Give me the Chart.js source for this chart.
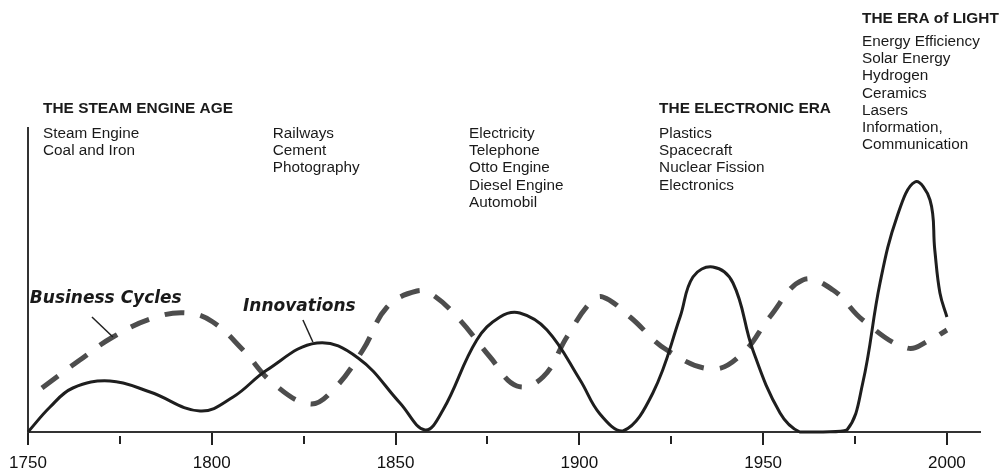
<!DOCTYPE html>
<html>
<head>
<meta charset="utf-8">
<script src="https://cdn.jsdelivr.net/npm/chart.js@4.4.1/dist/chart.umd.min.js"></script>
<style>
  html, body { margin: 0; padding: 0; background: #fff; }
  #wrap { width: 1002px; height: 471px; position: relative; }
</style>
</head>
<body>
<div id="wrap"><canvas id="line-chart"></canvas></div>
<script>
// Innovations (solid curve)
const innovationYears = [1750, 1756, 1762.2, 1772.3, 1783.2, 1796.8, 1805.8, 1815, 1828.6, 1839.8, 1851.2, 1858,
  1862.9, 1872.1, 1878.4, 1883.8, 1891.2, 1900.2, 1905.6, 1911.9, 1920, 1927.4, 1930.9, 1936.3, 1941.8, 1947.2, 1954.6,
  1960, 1966.3, 1972.8, 1977.1, 1981.8, 1986.4, 1991.3, 1995.4, 1996.7, 1998.1, 2000]
const innovationValues = [0, 25, 44, 51, 40, 21, 35, 62, 89, 74, 29, 2,
  22, 92, 115, 119, 102, 52, 18, 1, 39, 115, 155, 165, 149, 82, 19,
  0, 0, 2, 49, 149, 215, 250, 232, 182, 139, 115]

// Business cycles (dashed curve)
const cycleYears = [1753.8, 1764.1, 1773.1, 1784, 1793.3, 1800.3, 1808.5, 1816.6, 1826.7, 1833, 1841.1, 1847.7,
  1855.8, 1860.2, 1867.5, 1875.7, 1883, 1890.1, 1896.6, 1902.9, 1906.4, 1913.8, 1923.8, 1936.3, 1944.5, 1951.8,
  1960.8, 1969, 1977.1, 1989.1, 1995.4, 2000]
const cycleValues = [44, 72, 95, 114, 119, 110, 82, 49, 28, 42, 82, 125,
  141, 137, 112, 75, 46, 55, 95, 129, 135, 115, 82, 63, 79, 115,
  152, 142, 112, 84, 92, 102]

const tickLabels = ['1750', '1800', '1850', '1900', '1950', '2000']

const eras = [
  { year: 1754.1, title: 'THE STEAM ENGINE AGE', titleY: 109, itemsY: 134, items: ['Steam Engine', 'Coal and Iron'] },
  { year: 1816.6, itemsY: 134, items: ['Railways', 'Cement', 'Photography'] },
  { year: 1870, itemsY: 134, items: ['Electricity', 'Telephone', 'Otto Engine', 'Diesel Engine', 'Automobil'] },
  { year: 1921.7, title: 'THE ELECTRONIC ERA', titleY: 109, itemsY: 134, items: ['Plastics', 'Spacecraft', 'Nuclear Fission', 'Electronics'] },
  { year: 1976.9, title: 'THE ERA of LIGHT', titleY: 19, itemsY: 42,
    items: ['Energy Efficiency', 'Solar Energy', 'Hydrogen', 'Ceramics', 'Lasers', 'Information,', 'Communication'] }
]

// curve captions with their leader lines (data coordinates)
const captions = [
  { text: 'Business Cycles', year: 1750.5, value: 133, from: [1767.4, 115], to: [1773.1, 95] },
  { text: 'Innovations', year: 1808.5, value: 125, from: [1824.8, 112], to: [1827.5, 90] }
]

const FONT = '"Liberation Sans", Arial, sans-serif'

const textLayer = {
  id: 'textLayer',
  afterDraw(chart) {
    const { ctx, scales: { x, y } } = chart
    ctx.save()
    ctx.fillStyle = '#1a1a1a'
    ctx.textBaseline = 'middle'
    ctx.textAlign = 'left'
    eras.forEach(era => {
      const px = x.getPixelForValue(era.year)
      if (era.title) {
        ctx.font = 'bold 15.4px ' + FONT
        ctx.fillText(era.title, px, era.titleY)
      }
      ctx.font = '15.3px ' + FONT
      era.items.forEach((t, i) => ctx.fillText(t, px, era.itemsY + i * 17.1))
    })

    captions.forEach(c => {
      ctx.font = 'italic bold 17px "DejaVu Sans", Verdana, sans-serif'
      ctx.fillText(c.text, x.getPixelForValue(c.year), y.getPixelForValue(c.value))
      ctx.beginPath()
      ctx.strokeStyle = '#222'
      ctx.lineWidth = 1.5
      ctx.moveTo(x.getPixelForValue(c.from[0]), y.getPixelForValue(c.from[1]))
      ctx.lineTo(x.getPixelForValue(c.to[0]), y.getPixelForValue(c.to[1]))
      ctx.stroke()
    })
    ctx.restore()
  }
}

const $canvas = document.getElementById('line-chart')

new Chart($canvas, {
  type: 'line',
  data: {
    datasets: [
      {
        label: 'Innovations',
        data: innovationYears.map((yr, i) => ({ x: yr, y: innovationValues[i] })),
        borderColor: '#1e1e1e',
        borderWidth: 3,
        pointRadius: 0,
        tension: 0.4,
        clip: false
      },
      {
        label: 'Business Cycles',
        data: cycleYears.map((yr, i) => ({ x: yr, y: cycleValues[i] })),
        borderColor: '#4d4d4d',
        borderWidth: 5,
        borderDash: [20, 16],
        borderCapStyle: 'butt',
        pointRadius: 0,
        tension: 0.4,
        clip: false
      }
    ]
  },
  options: {
    responsive: true,
    maintainAspectRatio: false,
    animation: false,
    layout: { padding: { top: 128, right: 22, left: 0, bottom: 0 } },
    plugins: {
      legend: { display: false },
      tooltip: { enabled: false }
    },
    scales: {
      x: {
        type: 'linear',
        min: 1750,
        max: 2009,
        afterFit: s => { s.height = 39 },
        border: { display: true, color: '#333', width: 2 },
        grid: {
          drawOnChartArea: false,
          tickLength: 13,
          color: '#222',
          lineWidth: 2,
          tickBorderDash: ctx => tickLabels.includes(String(ctx.tick && ctx.tick.value)) ? [] : [0, 3, 8, 30]
        },
        ticks: {
          stepSize: 25,
          includeBounds: false,
          autoSkip: false,
          maxRotation: 0,
          padding: 8,
          color: '#111',
          font: { family: FONT, size: 17 },
          callback: v => tickLabels.includes(String(v)) ? String(v) : ''
        }
      },
      y: {
        min: 0,
        max: 304,
        afterFit: s => { s.width = 28 },
        border: { display: true, color: '#333', width: 2 },
        grid: { display: false },
        ticks: { display: false }
      }
    }
  },
  plugins: [textLayer]
})
</script>
</body>
</html>
